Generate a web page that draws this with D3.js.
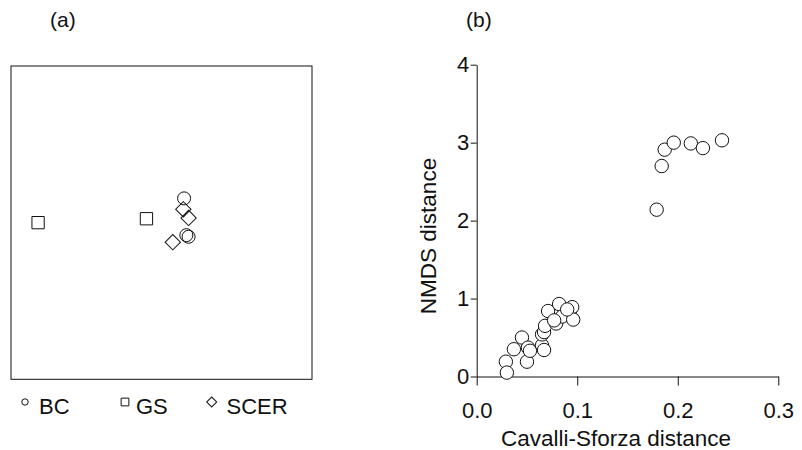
<!DOCTYPE html>
<html><head><meta charset="utf-8">
<script src="https://cdn.jsdelivr.net/npm/d3@7"></script>
<style>body{margin:0;background:#fff}svg{display:block}</style>
</head><body><svg id="c" width="802" height="450"></svg>
<script>
// Panel (a): NMDS ordination scores
const bcX = [0.30, 0.36, 0.33];
const bcY = [0.31, -0.18, -0.16];
const gsX = [-1.64, -0.20];
const gsY = [0.00, 0.05];
const scerX = [0.29, 0.36, 0.15];
const scerY = [0.17, 0.06, -0.25];
const legendLabels = ["BC", "GS", "SCER"];

// Panel (b): pairwise distances
const csDist = [0.029,0.030,0.037,0.045,0.050,0.051,0.053,0.065,0.067,0.065,0.067,0.068,0.071,0.079,0.082,0.085,0.093,0.095,0.096,0.090,0.077,
                0.179,0.184,0.187,0.196,0.213,0.225,0.244];
const nmdsDist = [0.19,0.05,0.35,0.50,0.19,0.37,0.33,0.40,0.34,0.54,0.57,0.65,0.84,0.68,0.93,0.77,0.85,0.89,0.73,0.86,0.72,
                  2.14,2.70,2.91,3.00,2.99,2.93,3.03];
const xTicks = [0, 0.1, 0.2, 0.3];
const yTicks = [0, 1, 2, 3, 4];

const svg = d3.select("#c");
const FONT = "Liberation Sans, Arial, sans-serif";
const INK = "#111";

// ---------- Panel (a) ----------
const ax = d3.scaleLinear().domain([-2, 2]).range([11, 312]);
const ay = d3.scaleLinear().domain([-2, 2]).range([379.3, 66]);
const ga = svg.append("g");
ga.append("rect")
  .attr("x", ax(-2)).attr("y", ay(2))
  .attr("width", ax(2) - ax(-2)).attr("height", ay(-2) - ay(2))
  .attr("fill", "none").attr("stroke", INK).attr("stroke-width", 1);

const groups = [
  {xs: bcX, ys: bcY, type: d3.symbolCircle, size: 133, rot: 0},
  {xs: gsX, ys: gsY, type: d3.symbolSquare, size: 151, rot: 0},
  {xs: scerX, ys: scerY, type: d3.symbolSquare, size: 118, rot: 45}
];
groups.forEach(g => {
  ga.selectAll(null).data(g.xs.map((x, i) => [x, g.ys[i]])).enter()
    .append("path")
    .attr("d", d3.symbol().type(g.type).size(g.size))
    .attr("transform", d => `translate(${ax(d[0])},${ay(d[1])}) rotate(${g.rot})`)
    .attr("fill", "none").attr("stroke", INK).attr("stroke-width", 1);
});

// legend
const legX = [25, 125, 211.7];
const legTxtX = [39, 136, 226.5];
const legSym = [
  {type: d3.symbolCircle, size: 32, rot: 0},
  {type: d3.symbolSquare, size: 60, rot: 0},
  {type: d3.symbolSquare, size: 50, rot: 45}
];
legendLabels.forEach((lab, i) => {
  ga.append("path")
    .attr("d", d3.symbol().type(legSym[i].type).size(legSym[i].size))
    .attr("transform", `translate(${legX[i]},402) rotate(${legSym[i].rot})`)
    .attr("fill", "none").attr("stroke", INK).attr("stroke-width", 1);
  ga.append("text").attr("x", legTxtX[i]).attr("y", 413.5)
    .attr("font-family", FONT).attr("font-size", 22).attr("fill", INK).text(lab);
});
svg.append("text").attr("x", 50).attr("y", 27).attr("font-family", FONT)
  .attr("font-size", 21).attr("fill", INK).text("(a)");

// ---------- Panel (b) ----------
const bx = d3.scaleLinear().domain([0, 0.3]).range([476.7, 778.3]);
const by = d3.scaleLinear().domain([0, 4]).range([376.5, 64.7]);
const gb = svg.append("g");

const xAxis = gb.append("g").attr("transform", `translate(0,${by(0)})`)
  .call(d3.axisBottom(bx).tickValues(xTicks).tickFormat(d3.format(".1f"))
        .tickSize(9).tickSizeOuter(0).tickPadding(17));
const yAxis = gb.append("g").attr("transform", `translate(${bx(0)},0)`)
  .call(d3.axisLeft(by).tickValues(yTicks).tickFormat(d3.format("d"))
        .tickSize(6).tickSizeOuter(0).tickPadding(1.5));
[xAxis, yAxis].forEach(a => {
  a.selectAll("path,line").attr("stroke", INK).attr("stroke-width", 1);
  a.selectAll("text").attr("font-family", FONT).attr("font-size", 22).attr("fill", INK);
});

gb.selectAll("circle.pt").data(csDist.map((x, i) => [x, nmdsDist[i]])).enter()
  .append("circle").attr("class", "pt")
  .attr("cx", d => bx(d[0])).attr("cy", d => by(d[1])).attr("r", 6.7)
  .attr("fill", "#fff").attr("stroke", INK).attr("stroke-width", 1);

gb.append("text").attr("x", 616).attr("y", 446).attr("text-anchor", "middle")
  .attr("font-family", FONT).attr("font-size", 22.5).attr("fill", INK)
  .text("Cavalli-Sforza distance");
gb.append("text").attr("transform", "translate(436,236) rotate(-90)")
  .attr("text-anchor", "middle").attr("font-family", FONT).attr("font-size", 22.5)
  .attr("fill", INK).text("NMDS distance");
svg.append("text").attr("x", 466).attr("y", 27).attr("font-family", FONT)
  .attr("font-size", 21).attr("fill", INK).text("(b)");
</script></body></html>
